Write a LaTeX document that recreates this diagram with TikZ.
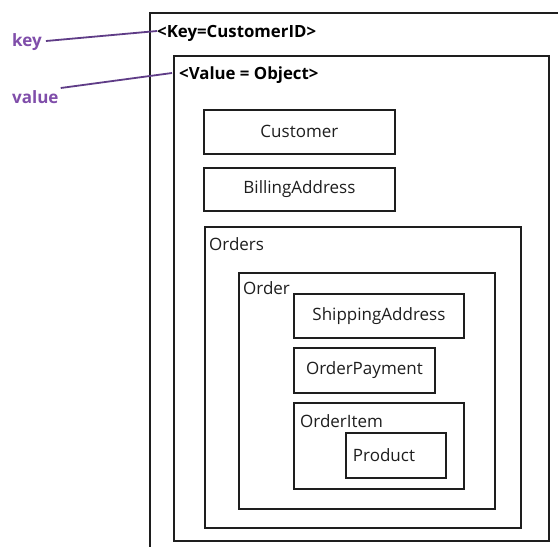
\documentclass[tikz,border=0pt]{standalone}
\usepackage{fontspec}
\setmainfont{Open Sans}
\definecolor{lblpurple}{RGB}{128,78,170}
\definecolor{linepurple}{RGB}{95,60,135}
\definecolor{ink}{RGB}{30,30,30}
\begin{document}
\begin{tikzpicture}[x=1pt,y=-1pt,
  box/.style={draw=ink, line width=1.8pt, inner sep=0pt, anchor=north west, text=ink,
    font=\fontsize{17}{20}\selectfont},
  txt/.style={inner sep=0pt, text=ink, font=\fontsize{17}{20}\selectfont},
  boldtxt/.style={inner sep=0pt, anchor=west, text=black, font=\fontsize{16.8}{20}\selectfont\bfseries},
  purplelbl/.style={inner sep=0pt, text=lblpurple, font=\fontsize{17}{20}\selectfont\bfseries},
  pointer/.style={draw=linepurple, line width=1.8pt}]
\useasboundingbox (0,0) rectangle (558,547);
\clip (0,0) rectangle (558,547);
\fill[white] (0,0) rectangle (558,547);
% outer key container (only top and left visible)
\draw[ink, line width=1.8pt] (150,560) -- (150,13) -- (570,13);
% value container
\node[box, minimum width=375pt, minimum height=485pt] (valuebox) at (173,55) {};
\node[box, minimum width=191pt, minimum height=44pt] (customer) at (203,109) {Customer};
\node[box, minimum width=191pt, minimum height=43pt] (billing) at (203,167) {BillingAddress};
\node[box, minimum width=316pt, minimum height=301pt] (orders) at (204,226) {};
\node[box, minimum width=256pt, minimum height=236pt] (order) at (238,272) {};
\node[box, minimum width=170pt, minimum height=44pt] (shipping) at (293,293) {ShippingAddress};
\node[box, minimum width=141pt, minimum height=45pt] (payment) at (293,347) {OrderPayment};
\node[box, minimum width=170pt, minimum height=86pt] (orderitem) at (293,402) {};
\node[box, minimum width=100pt, minimum height=45pt] (product) at (345,432) {};
% container labels
\node[txt, anchor=west] (orderslbl) at (209,244) {Orders};
\node[txt, anchor=west] (orderlbl) at (243,288) {Order};
\node[txt, anchor=west] (orderitemlbl) at (300,421) {OrderItem};
\node[txt] (productlbl) at (384,455) {Product};
\node[boldtxt] (keytext) at (157,33) {<Key=CustomerID>};
\node[boldtxt] (valuetext) at (179,75) {<Value = Object>};
% purple labels
\node[purplelbl, anchor=west] (keylbl) at (12,42) {key};
\node[purplelbl, anchor=west] (valuelbl) at (12,97) {value};
\draw[pointer] ([xshift=4pt,yshift=1pt]keylbl.east) -- ([xshift=0pt,yshift=2pt]keytext.west);
\draw[pointer] ([xshift=2pt,yshift=9pt]valuelbl.east) -- ([xshift=-7pt,yshift=2pt]valuetext.west);
\end{tikzpicture}
\end{document}
